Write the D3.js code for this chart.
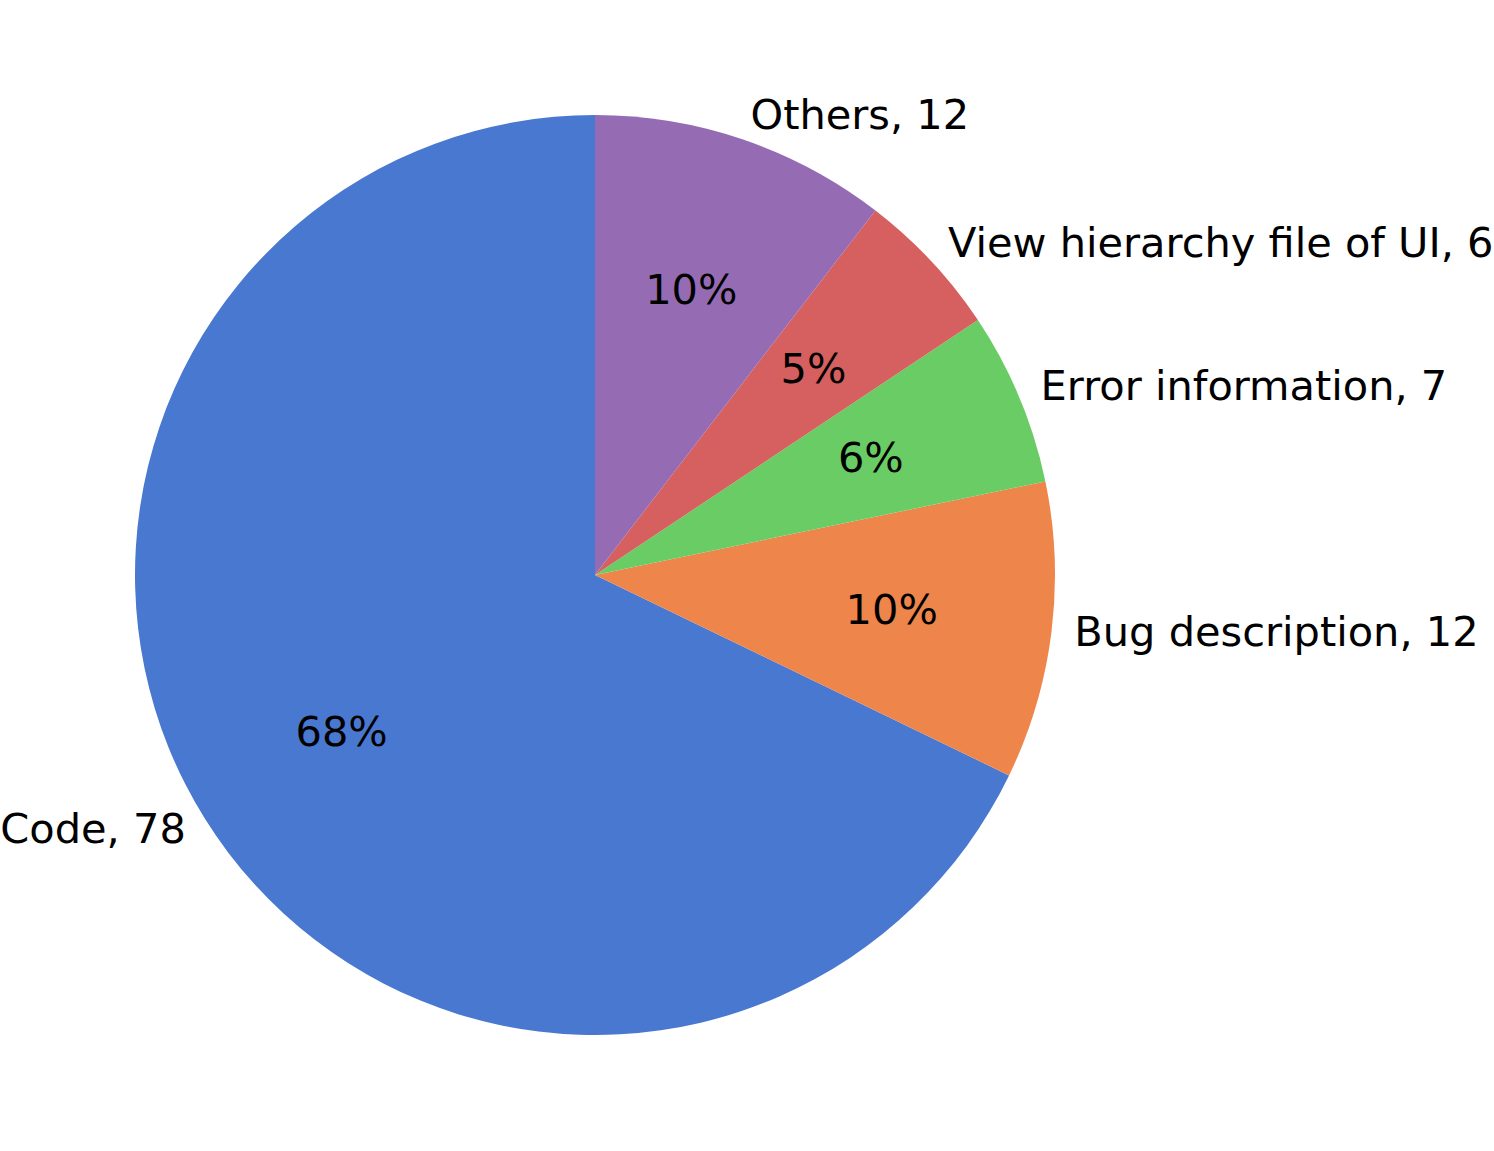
<!DOCTYPE html>
<html>
<head>
<meta charset="utf-8">
<script src="https://cdn.jsdelivr.net/npm/d3@7"></script>
<style>
  body { margin: 0; background: #fff; }
  text { font-family: 'DejaVu Sans', sans-serif; font-size: 41.5px; fill: #000; }
</style>
</head>
<body>
<script>
const categories = ['Code', 'Bug description', 'Error information', 'View hierarchy file of UI', 'Others']
const counts = [78, 12, 7, 6, 12]
const colors = ['#4878d0', '#ee854a', '#6acc64', '#d65f5f', '#956cb4']

const width = 1494
const height = 1151
const cx = 595
const cy = 575
const radius = 460

const svg = d3.select('body').append('svg')
  .attr('width', width)
  .attr('height', height)
  .append('g')
    .attr('transform', `translate(${cx}, ${cy})`)

const data = categories.map((c, i) => ({ name: c, value: counts[i], color: colors[i] }))
const total = d3.sum(counts)

// counter-clockwise from 12 o'clock, like matplotlib startangle=90
const pie = d3.pie().value(d => d.value).sort(null)
  .startAngle(0).endAngle(-2 * Math.PI)
const arcs = pie(data)

const arc = d3.arc().innerRadius(0).outerRadius(radius)

svg.selectAll('.slice').data(arcs)
  .enter().append('path')
  .attr('class', 'slice')
  .attr('d', arc)
  .style('fill', d => d.data.color)

const mid = d => (d.startAngle + d.endAngle) / 2
const pos = (d, k) => [Math.sin(mid(d)) * radius * k, -Math.cos(mid(d)) * radius * k]

svg.selectAll('.label').data(arcs)
  .enter().append('text')
  .attr('class', 'label')
  .attr('x', d => pos(d, 1.05)[0])
  .attr('y', d => pos(d, 1.05)[1])
  .attr('dy', '0.28em')
  .style('text-anchor', d => pos(d, 1)[0] >= 0 ? 'start' : 'end')
  .text(d => `${d.data.name}, ${d.data.value}`)

svg.selectAll('.pct').data(arcs)
  .enter().append('text')
  .attr('class', 'pct')
  .attr('x', d => pos(d, 0.65)[0])
  .attr('y', d => pos(d, 0.65)[1])
  .attr('dy', '0.3em')
  .style('text-anchor', 'middle')
  .text(d => `${Math.round(d.data.value / total * 100)}%`)
</script>
</body>
</html>
